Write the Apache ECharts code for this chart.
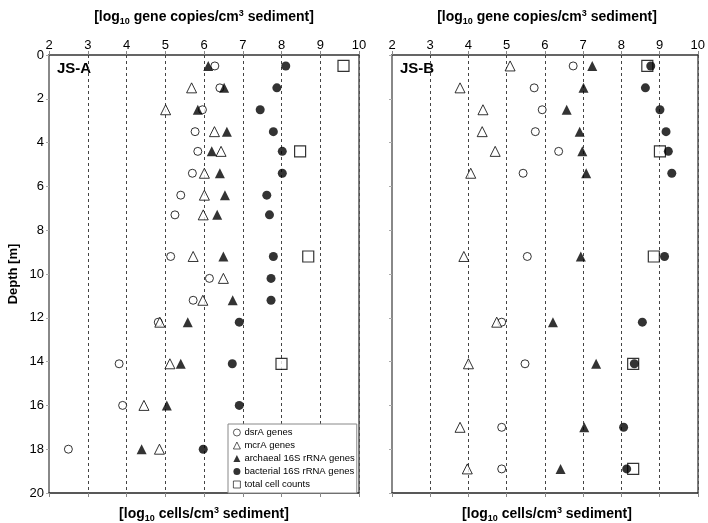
<!DOCTYPE html>
<html><head><meta charset="utf-8">
<script src="https://cdn.jsdelivr.net/npm/echarts@6/dist/echarts.min.js"></script>
<style>html,body{margin:0;padding:0;background:#fff}#c{width:708px;height:523px}</style>
</head><body><div id="c"></div>
<script>
const xTicks = [2,3,4,5,6,7,8,9,10];
const depthTicks = [0,2,4,6,8,10,12,14,16,18,20];
const seriesNames = ['dsrA genes','mcrA genes','archaeal 16S rRNA genes','bacterial 16S rRNA genes','total cell counts'];

// JS-A
const depthA = [0.5,1.5,2.5,3.5,4.4,5.4,6.4,7.3,9.2,10.2,11.2,12.2,14.1,16.0,18.0];
const dsrA_A = [6.28,6.41,5.96,5.77,5.84,5.70,5.40,5.25,5.14,6.14,5.72,4.82,3.81,3.90,2.50];
const mcrA_A = [null,5.68,5.01,6.27,6.44,6.01,6.01,5.98,5.72,6.50,5.97,4.86,5.12,4.45,4.85];
const arch_A = [6.11,6.52,5.84,6.59,6.20,6.41,6.54,6.34,6.50,null,6.74,5.58,5.40,5.04,4.39];
const bact_A = [8.11,7.88,7.45,7.79,8.02,8.02,7.62,7.69,7.79,7.73,7.73,6.91,6.73,6.91,5.98];
const cells_A = [9.60,null,null,null,8.48,null,null,null,8.69,null,null,null,8.00,null,null];

// JS-B
const depthB = [0.5,1.5,2.5,3.5,4.4,5.4,9.2,12.2,14.1,17.0,18.9];
const dsrA_B = [6.74,5.72,5.93,5.75,6.36,5.43,5.54,4.87,5.48,4.87,4.87];
const mcrA_B = [5.09,3.78,4.38,4.36,4.70,4.06,3.88,4.74,4.00,3.78,3.97];
const arch_B = [7.24,7.01,6.57,6.91,6.98,7.08,6.94,6.21,7.34,7.03,6.41];
const bact_B = [8.77,8.63,9.01,9.17,9.23,9.32,9.13,8.55,8.34,8.06,8.14];
const cells_B = [8.68,null,null,null,9.01,null,8.85,null,8.31,null,8.31];

const FONT = 'Arial, "Liberation Sans", sans-serif';
function pts(xs, ds){ const o=[]; xs.forEach((v,i)=>{ if(v!==null) o.push([v, ds[i]]); }); return o; }

const styles = [
  {symbol:'circle', symbolSize:8, itemStyle:{color:'#fff', borderColor:'#000', borderWidth:1}},
  {symbol:'triangle', symbolSize:10, itemStyle:{color:'#fff', borderColor:'#000', borderWidth:1}},
  {symbol:'triangle', symbolSize:10, itemStyle:{color:'#000', borderColor:'#000', borderWidth:0}},
  {symbol:'circle', symbolSize:9, itemStyle:{color:'#000', borderColor:'#000', borderWidth:0}},
  {symbol:'rect', symbolSize:11, itemStyle:{color:'#fff', borderColor:'#000', borderWidth:1.2}}
];

const chart = echarts.init(document.getElementById('c'), null, {renderer:'canvas'});

const grids = [
  {left:49, right:349, top:55, bottom:30},
  {left:392, right:6, top:55, bottom:30}
];

const xAxes = [], yAxes = [];
[0,1].forEach(g=>{
  xAxes.push({gridIndex:g, type:'value', position:'top', min:2, max:10, interval:1,
    axisLine:{show:true, lineStyle:{color:'#333', width:1.5}},
    axisTick:{show:true, inside:false, length:4, lineStyle:{color:'#888'}},
    axisLabel:{show:true, color:'#000', fontSize:13, fontFamily:FONT, margin:3},
    splitLine:{show:true, lineStyle:{color:'#444', type:[3,3], width:1}}});
  xAxes.push({gridIndex:g, type:'value', position:'bottom', min:2, max:10, interval:1,
    axisLine:{show:true, onZero:false, lineStyle:{color:'#222', width:1.5}},
    axisTick:{show:true, length:4, lineStyle:{color:'#888'}},
    axisLabel:{show:false}, splitLine:{show:false}});
  yAxes.push({gridIndex:g, type:'value', position:'left', inverse:true, min:0, max:20, interval:2,
    axisLine:{show:true, onZero:false, lineStyle:{color:'#888', width:2}},
    axisTick:{show:true, length:3, lineStyle:{color:'#aaa'}},
    axisLabel:{show:g===0, color:'#000', fontSize:13, fontFamily:FONT, margin:5},
    splitLine:{show:false}});
  yAxes.push({gridIndex:g, type:'value', position:'right', inverse:true, min:0, max:20, interval:2,
    axisLine:{show:true, onZero:false, lineStyle:{color:'#555', width:1.5}},
    axisTick:{show:false}, axisLabel:{show:false}, splitLine:{show:false}});
});

const series = [];
const dataA = [dsrA_A, mcrA_A, arch_A, bact_A, cells_A];
const dataB = [dsrA_B, mcrA_B, arch_B, bact_B, cells_B];
const order = [4,0,1,2,3];
[[dataA, depthA, 0],[dataB, depthB, 1]].forEach(([d, dep, g])=>{
  order.forEach(k=>{
    series.push(Object.assign({type:'scatter', name:seriesNames[k], xAxisIndex:g*2, yAxisIndex:g*2,
      data:pts(d[k], dep), z: 3, animation:false, emphasis:{disabled:true}}, JSON.parse(JSON.stringify(styles[k]))));
  });
});

const rich = {
  b:{fontSize:14, fontWeight:'bold', fontFamily:FONT, color:'#000', lineHeight:18},
  sub:{fontSize:9, fontWeight:'bold', fontFamily:FONT, color:'#000', lineHeight:18, verticalAlign:'bottom', padding:[6,0,0,0]},
  sup:{fontSize:9, fontWeight:'bold', fontFamily:FONT, color:'#000', lineHeight:18, padding:[0,0,6,0]}
};
function titleText(x, y, kind){
  const t = kind==='top' ? '{b|[log}{sub|10}{b| gene copies/cm}{sup|3}{b| sediment]}' : '{b|[log}{sub|10}{b| cells/cm}{sup|3}{b| sediment]}';
  return {type:'text', x:x, y:y, style:{text:t, rich:rich, align:'center', verticalAlign:'middle'}};
}

const legendIconStyle = [
  {color:'#fff', borderColor:'#000', borderWidth:0.8},
  {color:'#fff', borderColor:'#000', borderWidth:0.8},
  {color:'#000', borderWidth:0},
  {color:'#000', borderWidth:0},
  {color:'#fff', borderColor:'#000', borderWidth:0.8}
];

chart.setOption({
  animation:false,
  backgroundColor:'#fff',
  grid:grids,
  xAxis:xAxes,
  yAxis:yAxes,
  series:series,
  legend:{
    data:[0,1,2,3,4].map(i=>({name:seriesNames[i], itemStyle:legendIconStyle[i]})),
    orient:'vertical', left:228, top:424,
    backgroundColor:'#fff', borderColor:'#888', borderWidth:1, borderRadius:0,
    padding:[3,2,3,5], itemGap:2, itemWidth:7, itemHeight:7,
    selectedMode:false,
    textStyle:{fontSize:9.5, fontFamily:FONT, color:'#000', lineHeight:11, padding:[0,0,0,-1]}
  },
  graphic:[
    titleText(204, 17, 'top'),
    titleText(547, 17, 'top'),
    titleText(204, 514, 'bot'),
    titleText(547, 514, 'bot'),
    {type:'text', x:57, y:69, style:{text:'JS-A', font:'bold 15px '+FONT, fill:'#000', verticalAlign:'middle'}},
    {type:'text', x:400, y:69, style:{text:'JS-B', font:'bold 15px '+FONT, fill:'#000', verticalAlign:'middle'}},
    {type:'text', x:13, y:274, rotation:Math.PI/2, style:{text:'Depth [m]', font:'bold 13px '+FONT, fill:'#000', align:'center', verticalAlign:'middle'}}
  ]
});
</script></body></html>
